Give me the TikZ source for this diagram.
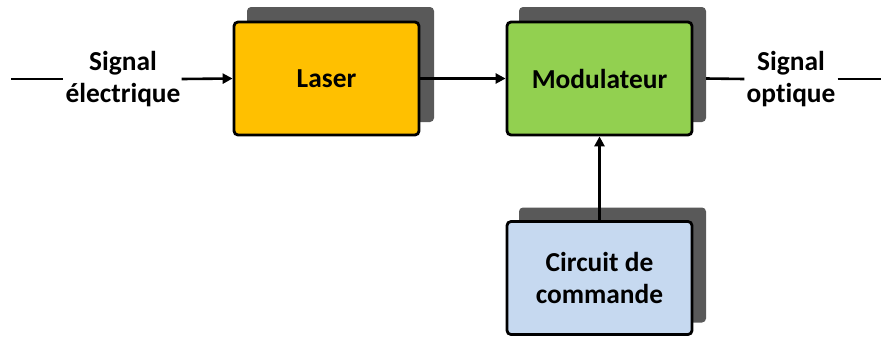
\documentclass[tikz,border=0pt]{standalone}
\usepackage{fontspec}
\setmainfont{Carlito}[Ligatures=NoCommon]
\usetikzlibrary{arrows.meta}
\definecolor{laserc}{HTML}{FFC000}
\definecolor{modc}{HTML}{92D050}
\definecolor{circc}{HTML}{C6D9F0}
\definecolor{shadc}{HTML}{595959}
\begin{document}
\begin{tikzpicture}[x=1bp,y=-1bp,
  blk/.style={draw=black,line width=2.8bp,rounded corners=4bp,minimum width=185bp,minimum height=113bp,inner sep=0,align=center,font=\bfseries\fontsize{27.5}{33}\selectfont},
  shad/.style={fill=shadc,rounded corners=4bp,minimum width=187bp,minimum height=115bp,inner sep=0},
  lbl/.style={align=center,font=\bfseries\fontsize{27.5}{33}\selectfont,inner sep=0},
  conn/.style={line width=2.6bp},
  arr/.style={conn,-{Triangle[length=10bp,width=10bp]}}]
\useasboundingbox (0,0) rectangle (881,336);
% shadows
\node[shad] (ls) at (340.5,64.5) {};
\node[shad] (ms) at (612.5,64.5) {};
\node[shad] (cs) at (612.5,265) {};
% boxes
\node[blk,fill=laserc] (laser) at (326.5,78.5) {Laser};
\node[blk,fill=modc] (mod) at (599.5,78.5) {Modulateur};
\node[blk,fill=circc] (circ) at (599.5,278) {Circuit de\\commande};
% labels
\node[lbl] (sin) at (123,79) {Signal\\électrique};
\node[lbl] (sout) at (791,79) {Signal\\optique};
\coordinate (inL) at (11,79);
\coordinate (outR) at (881,79);
% connectors
\draw[conn] (inL) -- ([xshift=-2bp]sin.west);
\draw[arr] ([xshift=1bp]sin.east) -- (laser.west);
\draw[arr] (laser.east) -- (mod.west);
\draw[conn] (ms.east |- mod.east) -- ([xshift=-2bp]sout.west);
\draw[conn] ([xshift=2bp]sout.east) -- (outR);
\draw[arr] (circ.north) -- (mod.south);
\end{tikzpicture}
\end{document}
